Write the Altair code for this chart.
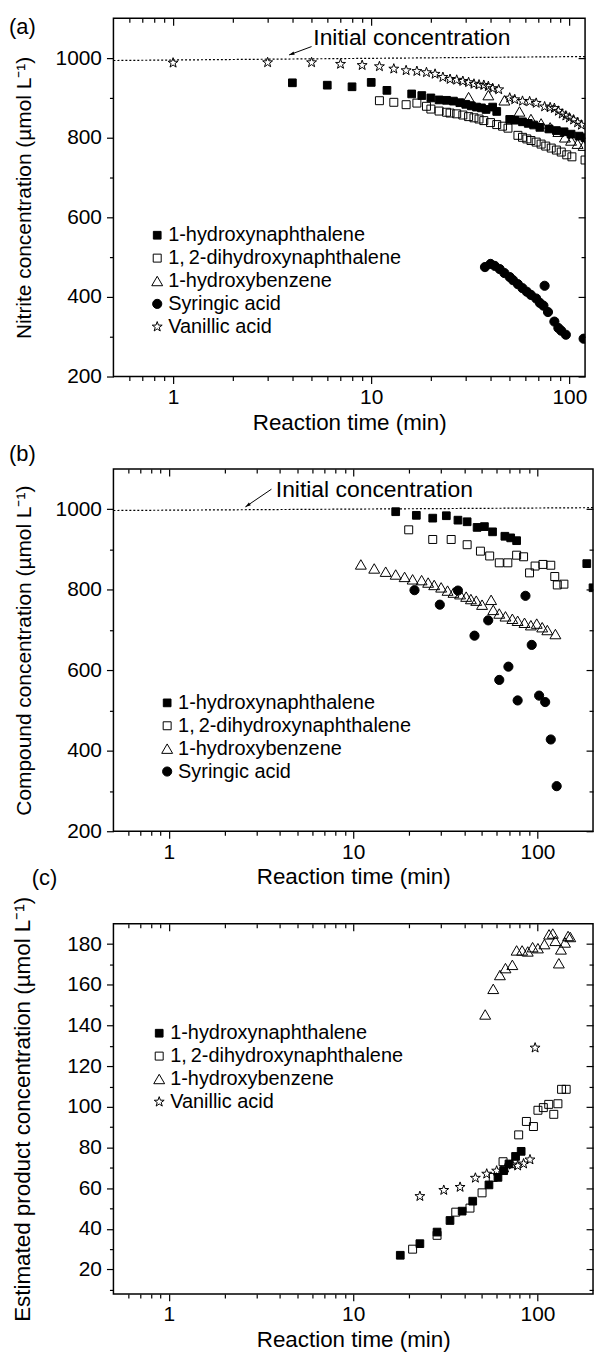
import math
import altair as alt
import pandas as pd

FONT = "Liberation Sans, Arial, Helvetica"

# ---------------- series names ----------------
HN = "1-hydroxynaphthalene"
DHN = "1,\u20092-dihydroxynaphthalene"
HB = "1-hydroxybenzene"
SA = "Syringic acid"
VA = "Vanillic acid"

# ---------------- panel (a): nitrite concentration ----------------
a_hn_t = [4, 6, 8, 10, 12, 16, 18, 20, 22, 24, 26, 28, 30, 32, 34, 36, 38, 41, 43, 50, 53, 58, 62, 66, 71, 79, 86, 94, 102, 112, 120]
a_hn_v = [938, 932, 928, 939, 919, 910, 906, 900, 895, 894, 892, 888, 884, 880, 877, 875, 871, 877, 866, 846, 844, 840, 836, 832, 826, 822, 818, 815, 809, 804, 800]
a_dhn_t = [11, 13, 15, 17, 19, 20, 22, 24, 25, 27, 29, 31, 33, 35, 37, 40, 43, 46, 49, 55, 58, 61, 64, 68, 72, 76, 81, 86, 91, 97, 103, 120]
a_dhn_v = [893, 889, 883, 887, 879, 872, 867, 864, 862, 860, 857, 853, 850, 847, 843, 838, 833, 829, 824, 806, 801, 797, 793, 789, 784, 779, 774, 769, 764, 757, 752, 744]
a_hb_t = [31, 39, 47, 56, 64, 72, 80, 88, 95, 102, 110, 118]
a_hb_v = [902, 907, 894, 866, 847, 836, 826, 815, 801, 793, 785, 780]
a_sa_t = [37.5, 40, 42, 44.5, 47, 50, 52, 55, 58, 61, 64, 68, 71, 74, 75, 78, 84, 88, 91, 96, 118]
a_sa_v = [475, 483, 478, 470, 460, 450, 442, 432, 422, 413, 405, 396, 385, 378, 428, 362, 338, 322, 315, 305, 295]
a_va_t = [1, 3, 5, 7, 9, 11, 13, 15, 17, 19, 21, 23, 25, 27, 29, 31, 33, 35, 37, 39, 41, 44, 50, 53, 58, 63, 68, 75, 80, 84, 88, 92, 96, 100, 105, 110, 115]
a_va_v = [988, 989, 989, 985, 982, 979, 973, 969, 967, 964, 960, 952, 947, 945, 942, 939, 935, 933, 932, 929, 924, 921, 900, 896, 892, 891, 887, 878, 876, 874, 867, 860, 855, 850, 845, 838, 832]
a_line_t = [0.5, 120]
a_line_v = [994, 1004]
a_arrow_t = [5.0, 3.85]
a_arrow_v = [1029, 1008]
a_note_t = [5.1]
a_note_v = [1050]

# ---------------- panel (b): compound concentration ----------------
b_hn_t = [17, 22, 27, 32, 37, 41.5, 47, 51.5, 57, 66.5, 71.5, 77, 185, 200]
b_hn_v = [994, 985, 978, 984, 973, 969, 955, 957, 944, 933, 929, 922, 865, 805]
b_dhn_t = [20, 27, 34, 41.5, 49, 55, 62, 69, 77, 84, 90.5, 97, 107, 118, 124, 128, 139]
b_dhn_v = [949, 925, 925, 912, 896, 884, 867, 867, 886, 882, 842, 859, 863, 861, 833, 812, 814]
b_hb_t = [11, 13, 15, 17, 19, 21, 23.5, 25.5, 27.5, 30, 32.5, 35, 38, 41, 43.5, 46.5, 50, 56, 57.5, 62, 67, 73, 78, 85, 92, 99, 106, 113, 125]
b_hb_v = [863, 853, 845, 838, 832, 826, 824, 818, 812, 806, 798, 793, 789, 783, 777, 773, 763, 775, 750, 741, 734, 728, 723, 718, 712, 716, 707, 700, 690]
b_sa_t = [21.5, 29.5, 37, 45.5, 54, 62, 69.5, 78, 86, 93, 102, 110, 118, 127]
b_sa_v = [799, 763, 798, 686, 724, 576, 609, 525, 785, 663, 537, 521, 428, 312]
b_line_t = [0.5, 200]
b_line_v = [997, 1004]
b_arrow_t = [3.6, 2.6]
b_arrow_v = [1050, 1006]
b_note_t = [3.8]
b_note_v = [1047]

# ---------------- panel (c): estimated product concentration ----------------
c_hn_t = [18, 23, 28.5, 33.5, 39, 44.5, 54.5, 61, 65.5, 70, 76, 81.5]
c_hn_v = [27, 32.7, 38.4, 44.1, 48.7, 53.6, 61.6, 65.3, 68.6, 71.9, 75.6, 78.1]
c_dhn_t = [21, 28.5, 36, 43, 50, 57.5, 65, 79, 87, 95, 100.5, 107.5, 115, 122.5, 129, 135, 143]
c_dhn_v = [30, 36.8, 48.2, 50.2, 57.7, 65.3, 73, 86.2, 92.8, 90.3, 98.3, 99.6, 101.2, 96.3, 101.5, 108.6, 108.6]
c_hb_t = [52, 57.5, 62.5, 67, 73, 77, 82.5, 88.5, 94, 100.5, 109, 115.5, 121, 125, 130.5, 134, 141, 146.5, 150.5]
c_hb_v = [145.4, 158, 164.8, 168.2, 169.8, 176.9, 176.9, 176.4, 178.5, 178, 180, 184.8, 185.2, 181.6, 170.6, 177.4, 180.8, 184, 183.5]
c_va_t = [23, 31, 38, 46, 53, 60, 67, 73, 78, 84, 91, 97]
c_va_v = [56, 59, 60.5, 65, 67, 68.5, 70, 71.5, 71, 72, 74, 129]

# ---------------- axis ticks / labels ----------------
x_major = [1, 10, 100]
x_minor = [0.6, 0.7, 0.8, 0.9, 2, 3, 4, 5, 6, 7, 8, 9, 20, 30, 40, 50, 60, 70, 80, 90]
y_major_ab = [200, 400, 600, 800, 1000]
y_minor_ab = [300, 500, 700, 900]
y_major_c = [20, 40, 60, 80, 100, 120, 140, 160, 180]
y_minor_c = [10, 30, 50, 70, 90, 110, 130, 150, 170]
note_text = "Initial concentration"
x_title = "Reaction time (min)"
y_titles = ["Nitrite concentration (\u00b5mol L\u207b\u00b9)",
            "Compound concentration (\u00b5mol L\u207b\u00b9)",
            "Estimated product concentration (\u00b5mol L\u207b\u00b9)"]
tags = ["(a)", "(b)", "(c)"]

# ---------------- styles ----------------
STAR = "M0,-1L0.235,-0.324L0.951,-0.309L0.38,0.124L0.588,0.809L0,0.4L-0.588,0.809L-0.38,0.124L-0.951,-0.309L-0.235,-0.324Z"
ARROW = "M0,0L-0.55,1.7L0.55,1.7Z"
SHAPE = {HN: "square", DHN: "square", HB: "triangle-up", SA: "circle", VA: STAR}
FILL = {HN: "black", DHN: "transparent", HB: "transparent", SA: "black", VA: "transparent"}
SIZE = {HN: 60, DHN: 64, HB: 120, SA: 85, VA: 110}


def series_df(items):
    rows = []
    for name, ts, vs in items:
        for t, v in zip(ts, vs):
            rows.append({"t": t, "v": v, "series": name})
    return pd.DataFrame(rows)


def screen_angle(t0, v0, t1, v1, xdom, ydom, w, h):
    dx = w * (math.log10(t1) - math.log10(t0)) / (math.log10(xdom[1]) - math.log10(xdom[0]))
    dy = -h * (v1 - v0) / (ydom[1] - ydom[0])
    return math.degrees(math.atan2(dx, -dy)) % 360


def make_panel(df, names, xdom, ydom, w, h, ymaj, ymin, ytitle, ytitle_size, tag, tag_x, tag_y,
               leg_x, leg_y, line=None, arrow=None, note=None):
    xs = alt.Scale(type="log", domain=xdom, nice=False)
    ys = alt.Scale(type="linear", domain=ydom, nice=False, zero=False)
    frame = pd.DataFrame({"t": xdom, "v": ydom})

    def ax(orient, vals, size, offset=0):
        return alt.Axis(orient=orient, values=vals, tickSize=size, offset=offset, labels=False,
                        title=None, domain=False, grid=False, ticks=True)

    layers = []
    layers.append(alt.Chart(frame).mark_point(opacity=0).encode(
        x=alt.X("t:Q", scale=xs, axis=ax("bottom", x_minor, 4)),
        y=alt.Y("v:Q", scale=ys, axis=ax("left", ymin, 4))))
    layers.append(alt.Chart(frame).mark_point(opacity=0).encode(
        x=alt.X("t:Q", scale=xs, axis=ax("top", x_major, 7, -7)),
        y=alt.Y("v:Q", scale=ys, axis=ax("right", ymaj, 7, -7))))
    layers.append(alt.Chart(frame).mark_point(opacity=0).encode(
        x=alt.X("t:Q", scale=xs, axis=ax("top", x_minor, 4, -4)),
        y=alt.Y("v:Q", scale=ys, axis=ax("right", ymin, 4, -4))))

    if line is not None:
        layers.append(alt.Chart(pd.DataFrame({"t": line[0], "v": line[1]})).mark_line(
            color="black", strokeDash=[2, 2], strokeWidth=1.2).encode(
            x=alt.X("t:Q", scale=xs, axis=None), y=alt.Y("v:Q", scale=ys, axis=None)))
    if arrow is not None:
        at, av = arrow
        layers.append(alt.Chart(pd.DataFrame({"t": at, "v": av})).mark_line(
            color="black", strokeWidth=1).encode(
            x=alt.X("t:Q", scale=xs, axis=None), y=alt.Y("v:Q", scale=ys, axis=None)))
        ang = screen_angle(at[0], av[0], at[1], av[1], xdom, ydom, w, h)
        layers.append(alt.Chart(pd.DataFrame({"t": at[1:], "v": av[1:]})).mark_point(
            shape=ARROW, angle=ang, filled=True, color="black", opacity=1, size=40).encode(
            x=alt.X("t:Q", scale=xs, axis=None), y=alt.Y("v:Q", scale=ys, axis=None)))
    if note is not None:
        nt, nv = note
        layers.append(alt.Chart(pd.DataFrame({"t": nt, "v": nv, "label": [note_text]})).mark_text(
            align="left", baseline="middle", font=FONT, fontSize=23, color="black").encode(
            x=alt.X("t:Q", scale=xs, axis=None), y=alt.Y("v:Q", scale=ys, axis=None), text="label:N"))

    leg = alt.Legend(title=None, orient="none", legendX=leg_x, legendY=leg_y, labelFont=FONT,
                     labelFontSize=20, rowPadding=3, padding=0, labelOffset=1,
                     symbolStrokeWidth=1, symbolOpacity=1, labelLimit=400, labelColor="black")
    pts = alt.Chart(df).mark_point(filled=True, strokeWidth=1, opacity=1, clip=True).encode(
        x=alt.X("t:Q", scale=xs, axis=alt.Axis(orient="bottom", values=x_major, tickSize=7, format="d",
                                                title=x_title, labelPadding=3, titlePadding=4, domain=False,
                                                grid=False, labelFlush=False)),
        y=alt.Y("v:Q", scale=ys, axis=alt.Axis(orient="left", values=ymaj, tickSize=7, format="d",
                                                title=ytitle, titleFontSize=ytitle_size, labelPadding=5,
                                                titleX=-79, domain=False, grid=False, labelFlush=False)),
        shape=alt.Shape("series:N", scale=alt.Scale(domain=names, range=[SHAPE[n] for n in names]), legend=leg),
        fill=alt.Fill("series:N", scale=alt.Scale(domain=names, range=[FILL[n] for n in names]), legend=leg),
        stroke=alt.Stroke("series:N", scale=alt.Scale(domain=names, range=["black" for n in names]), legend=leg),
        size=alt.Size("series:N", scale=alt.Scale(type="ordinal", domain=names,
                                                  range=[SIZE[n] for n in names]), legend=leg),
    )
    layers.append(pts)
    layers.append(alt.Chart(pd.DataFrame({"label": [tag]})).mark_text(
        align="left", baseline="middle", font=FONT, fontSize=22, color="black").encode(
        x=alt.value(tag_x), y=alt.value(tag_y), text="label:N"))

    return alt.layer(*layers).resolve_axis(x="independent", y="independent").properties(width=w, height=h)


names_a = [HN, DHN, HB, SA, VA]
df_a = series_df([(HN, a_hn_t, a_hn_v), (DHN, a_dhn_t, a_dhn_v), (HB, a_hb_t, a_hb_v),
                  (SA, a_sa_t, a_sa_v), (VA, a_va_t, a_va_v)])
names_b = [HN, DHN, HB, SA]
df_b = series_df([(HN, b_hn_t, b_hn_v), (DHN, b_dhn_t, b_dhn_v), (HB, b_hb_t, b_hb_v), (SA, b_sa_t, b_sa_v)])
names_c = [HN, DHN, HB, VA]
df_c = series_df([(HN, c_hn_t, c_hn_v), (DHN, c_dhn_t, c_dhn_v), (HB, c_hb_t, c_hb_v), (VA, c_va_t, c_va_v)])

pa = make_panel(df_a, names_a, [0.5, 120], [200, 1100], 474, 360, y_major_ab, y_minor_ab,
                y_titles[0], 21, tags[0], -105, 9, 34, 208,
                line=(a_line_t, a_line_v), arrow=(a_arrow_t, a_arrow_v), note=(a_note_t, a_note_v))
pb = make_panel(df_b, names_b, [0.5, 200], [200, 1100], 482, 364, y_major_ab, y_minor_ab,
                y_titles[1], 21, tags[1], -105, -15, 44, 225,
                line=(b_line_t, b_line_v), arrow=(b_arrow_t, b_arrow_v), note=(b_note_t, b_note_v))
pc = make_panel(df_c, names_c, [0.5, 200], [8, 190], 482, 372, y_major_c, y_minor_c,
                y_titles[2], 22.5, tags[2], -82, -46, 36, 100)

chart = alt.vconcat(pa, pb, pc, spacing=93, bounds="flush").resolve_scale(
    shape="independent", fill="independent", stroke="independent", size="independent").resolve_legend(
    shape="independent", fill="independent", stroke="independent", size="independent").properties(
    padding={"left": 8, "top": 11, "right": 0, "bottom": 2}
).configure_view(stroke="black", strokeWidth=1.5).configure_axis(
    labelFont=FONT, labelFontSize=21, labelColor="black", tickColor="black", tickWidth=1.2,
    titleColor="black", titleFontWeight="normal", titleFont=FONT, titleFontSize=22.5
)

chart.save("out.html", embed_options={"renderer": "svg", "actions": False})
